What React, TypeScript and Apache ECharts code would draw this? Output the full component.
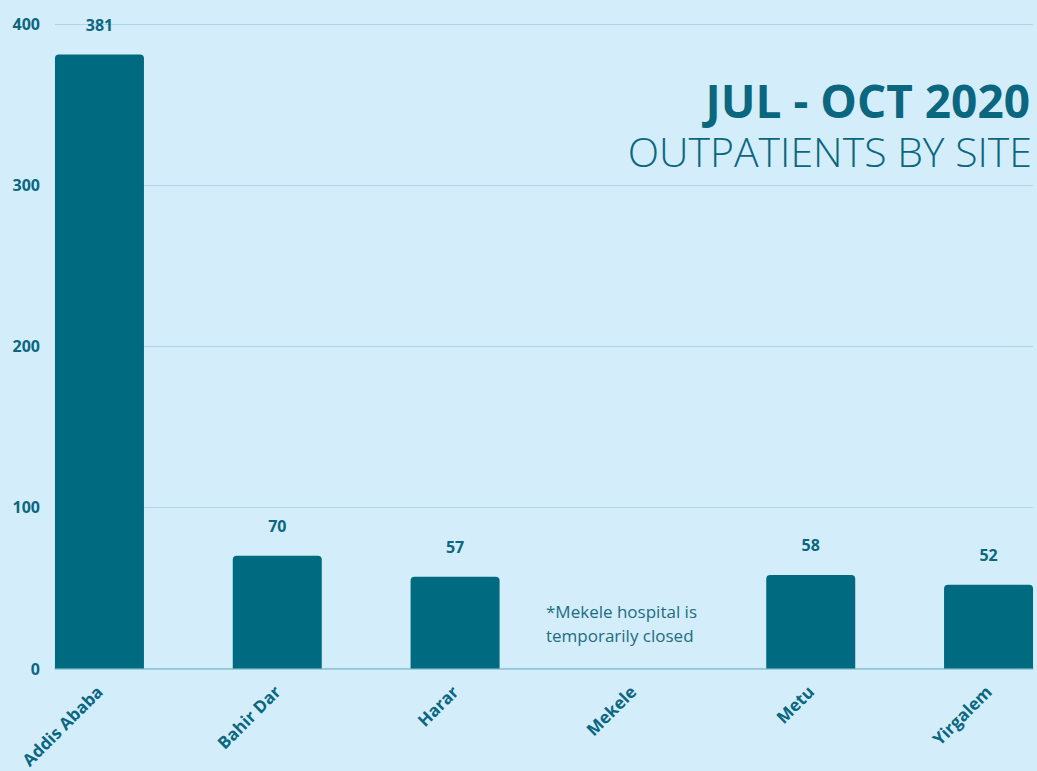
import React, { useEffect, useRef } from "react";
import * as echarts from "echarts";

const categories = ["Addis Ababa", "Bahir Dar", "Harar", "Mekele", "Metu", "Yirgalem"];
const outpatients: (number | null)[] = [381, 70, 57, null, 58, 52];
const yTicks = [0, 100, 200, 300, 400];
const titleLine1 = "JUL - OCT 2020";
const titleLine2 = "OUTPATIENTS BY SITE";
const noteLines = ["*Mekele hospital is", "temporarily closed"];

const TEXT = "#0b6680";
const BAR = "#006a80";
const FONT = "'Open Sans', 'Noto Sans', sans-serif";

export default function App() {
  const ref = useRef<HTMLDivElement>(null);
  useEffect(() => {
    if (!ref.current) return;
    const chart = echarts.init(ref.current, undefined, { renderer: "svg" });
    const data = outpatients.map((v, i) => [i, v]);
    chart.setOption({
      animation: false,
      backgroundColor: "#d3eefa",
      textStyle: { fontFamily: FONT },
      grid: { left: 55, right: 4, top: 24, bottom: 102, containLabel: false },
      xAxis: {
        type: "value",
        min: -0.25,
        max: 5.25,
        interval: 0.25,
        splitLine: { show: false },
        axisTick: { show: false },
        axisLine: { show: true, lineStyle: { color: "#8cc3d6", width: 1.5 } },
        axisLabel: {
          rotate: 45,
          margin: 20,
          color: TEXT,
          fontFamily: FONT,
          fontWeight: "bold",
          fontSize: 17,
          showMinLabel: true,
          showMaxLabel: true,
          formatter: (v: number) => {
            const r = Math.round(v);
            return Math.abs(v - r) < 1e-6 && r >= 0 && r < categories.length ? categories[r] : "";
          },
        },
      },
      yAxis: {
        type: "value",
        min: yTicks[0],
        max: yTicks[yTicks.length - 1],
        interval: 100,
        axisLine: { show: false },
        axisTick: { show: false },
        splitLine: { show: true, lineStyle: { color: "#a9d6e8", width: 1 } },
        axisLabel: {
          margin: 15,
          color: TEXT,
          fontFamily: FONT,
          fontWeight: "bold",
          fontSize: 16,
        },
      },
      series: [
        {
          type: "bar",
          data,
          barWidth: 89,
          itemStyle: { color: BAR, borderRadius: [4, 4, 0, 0] },
          label: {
            show: true,
            position: "top",
            distance: 22,
            color: TEXT,
            fontFamily: FONT,
            fontWeight: "bold",
            fontSize: 16,
            formatter: (p: any) => (p.value[1] == null ? "" : String(p.value[1])),
          },
        },
      ],
      graphic: [
        {
          type: "text",
          right: 7,
          top: 75,
          style: {
            text: titleLine1,
            fill: TEXT,
            font: `bold 46px ${FONT}`,
            textAlign: "right",
            lineHeight: 50,
          },
        },
        {
          type: "text",
          right: 5,
          top: 129,
          style: {
            text: titleLine2,
            fill: TEXT,
            font: `300 41px ${FONT}`,
            textAlign: "right",
            lineHeight: 44,
          },
        },
        {
          type: "text",
          left: 546,
          top: 599,
          style: {
            text: noteLines.join("\n"),
            fill: "#1d6c82",
            font: `17px ${FONT}`,
            lineHeight: 24,
          },
        },
      ],
    });
    return () => chart.dispose();
  }, []);
  return (
    <div
      ref={ref}
      style={{ position: "fixed", left: 0, top: 0, width: 1037, height: 771, background: "#d3eefa" }}
    />
  );
}
